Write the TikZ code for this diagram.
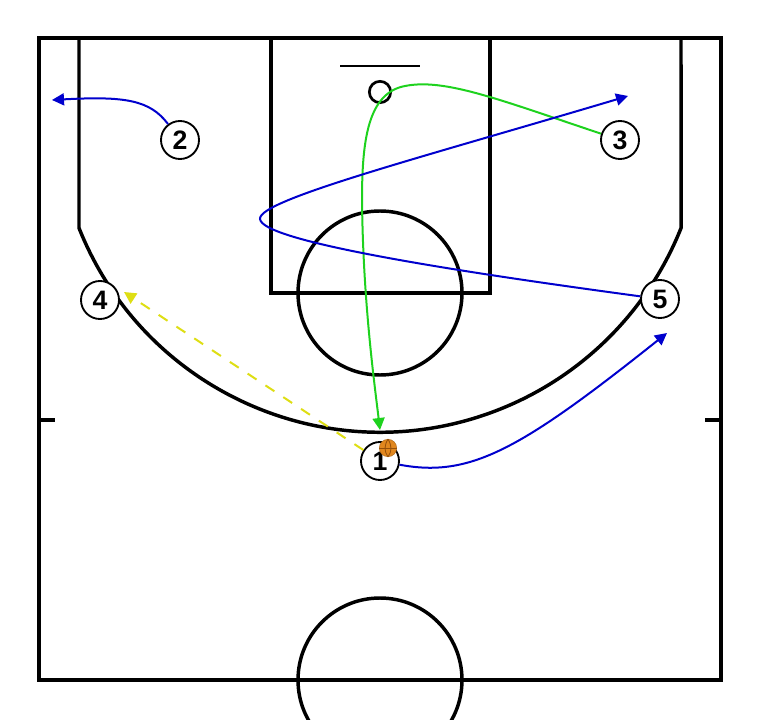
\documentclass[tikz,border=0pt]{standalone}
\usepackage{fontspec}
\setsansfont{Liberation Sans}
\usetikzlibrary{arrows.meta}

\definecolor{moveblue}{RGB}{0,0,205}
\definecolor{cutgreen}{RGB}{30,210,30}
\definecolor{passyellow}{RGB}{222,222,20}
\definecolor{ballorange}{RGB}{225,135,30}
\definecolor{ballseam}{RGB}{150,80,10}

\tikzset{
  court/.style={line width=2.6pt, line join=miter},
  player/.style={circle, draw, fill=white, line width=1.4pt, minimum size=28.5pt, inner sep=0pt,
    font=\sffamily\bfseries\fontsize{20}{20}\selectfont},
  ball/.style={circle, fill=ballorange, draw=ballorange!80!black, line width=0.4pt, minimum size=13pt, inner sep=0pt},
  tip/.style={-{Triangle[length=9pt,width=9pt]}},
  move/.style={tip, draw=moveblue, line width=1.5pt},
  cutline/.style={tip, draw=cutgreen, line width=1.5pt},
  pass/.style={tip, draw=passyellow, line width=1.5pt, dash pattern=on 8pt off 8pt}
}

\begin{document}
\begin{tikzpicture}[x=0.75pt,y=0.75pt,yscale=-1,xscale=1]
\useasboundingbox (0,0) rectangle (760,720);
\clip (0,0) rectangle (760,720);

%Court outline
\draw [court] (39,38) rectangle (721,680) ;
%Half court circle
\draw [court] (380,680) circle (82) ;
%Side ticks
\draw [court] (39,420) -- (55,420) ;
\draw [court] (705,420) -- (721,420) ;
%Three point line
\draw [court] (79,38) -- (79,228) arc [start angle=158.3, end angle=21.7, radius=324] -- (681,38) ;
%Paint
\draw [court] (271,38) rectangle (490,293) ;
%Free throw circle
\draw [court] (380,293) circle (82) ;
%Backboard
\draw [line width=1.5pt] (340,66) -- (420,66) ;
%Hoop
\node [circle, draw, line width=2pt, minimum size=16pt, inner sep=0pt] (hoop) at (380,92) {} ;

% Players
\node [player] (p1) at (380,461) {1} ;
\node [player] (p2) at (180,140) {2} ;
\node [player] (p3) at (620,140) {3} ;
\node [player] (p4) at (100,300) {4} ;
\node [player] (p5) at (660,299) {5} ;

% Arrow ends
\coordinate (e2) at (52,100) ;
\coordinate (e3) at (380,430) ;
\coordinate (e4) at (124,292) ;
\coordinate (e5) at (628,96) ;
\coordinate (e1) at (667,333) ;

%Player 2 pop out
\draw [move] (p2) .. controls (150,100) and (125,96) .. (e2) ;
%Player 3 cut
\draw [cutline] (p3) .. controls (500,100) and (445,78) .. (405,86) .. controls (368,93) and (362,140) .. (362,200) .. controls (363,300) and (374,380) .. (e3) ;
%Player 5 cut
\draw [move] (p5) .. controls (430,268) and (262,240) .. (260,219) .. controls (258,200) and (420,158) .. (e5) ;
%Player 1 cut
\draw [move] (p1) .. controls (470,478) and (520,450) .. (e1) ;
%Pass
\draw [pass] (p1) -- (e4) ;

% Ball
\node [ball] (ball) at (388,448) {} ;
\draw [ballseam, line width=0.6pt] (ball.north) .. controls (384,446) and (384,451) .. (ball.south) ;
\draw [ballseam, line width=0.6pt] (ball.north) .. controls (392,446) and (392,451) .. (ball.south) ;
\draw [ballseam, line width=0.6pt] (ball.west) -- (ball.east) ;

\end{tikzpicture}
\end{document}
